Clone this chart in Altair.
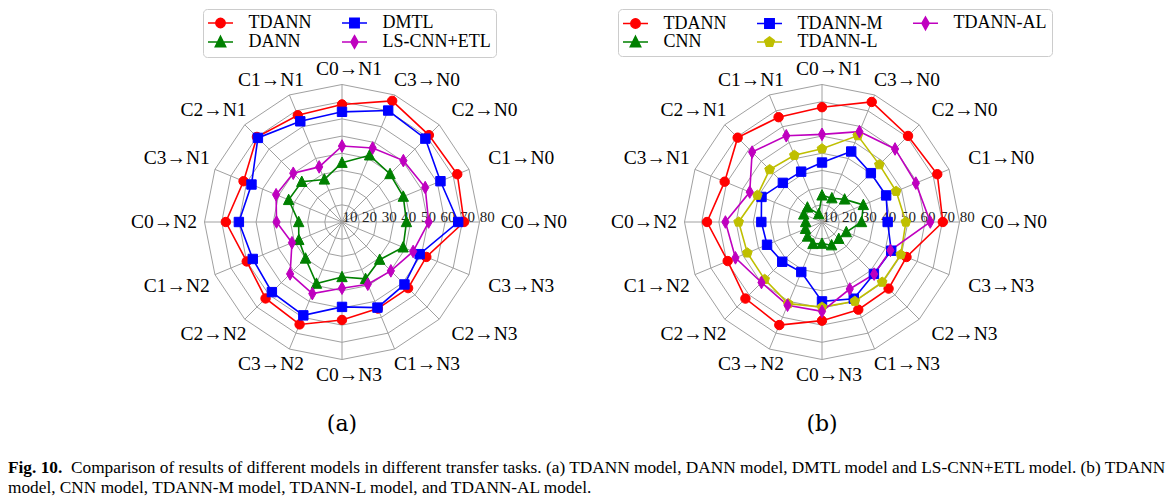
import math
import altair as alt
import pandas as pd

# ---------------- data ----------------
tasks = ["C0→N0", "C1→N0", "C2→N0", "C3→N0", "C0→N1", "C1→N1", "C2→N1", "C3→N1",
         "C0→N2", "C1→N2", "C2→N2", "C3→N2", "C0→N3", "C1→N3", "C2→N3", "C3→N3"]
ticks = [10, 20, 30, 40, 50, 60, 70, 80]

# panel (a)
a_models = ["TDANN", "DANN", "DMTL", "LS-CNN+ETL"]
a_tdann = [71.0, 72.6, 71.5, 76.3, 68.4, 67.2, 70.0, 62.0, 67.6, 60.0, 62.9, 64.5, 57.0, 54.5, 54.4, 53.1]
a_dann = [37.5, 38.6, 39.5, 42.0, 34.5, 26.8, 33.1, 33.6, 25.2, 27.2, 30.0, 38.8, 32.0, 35.8, 31.0, 38.5]
a_dmtl = [67.6, 62.0, 68.6, 70.2, 64.1, 63.4, 69.2, 57.0, 60.0, 56.2, 57.7, 58.8, 49.4, 53.9, 51.4, 48.9]
a_lscnn = [50.4, 52.4, 50.5, 46.6, 44.2, 34.7, 40.1, 41.5, 38.1, 31.5, 42.7, 45.1, 38.5, 39.2, 40.2, 44.8]
a_legend_order = ["TDANN", "DANN", "DMTL", "LS-CNN+ETL"]

# panel (b)
b_models = ["TDANN", "CNN", "TDANN-M", "TDANN-L", "TDANN-AL"]
b_tdann = [70.3, 72.6, 70.8, 75.6, 66.8, 66.0, 69.4, 61.3, 66.9, 59.4, 63.0, 64.9, 57.4, 55.2, 54.8, 53.2]
b_cnn = [23.0, 26.0, 18.6, 15.0, 15.5, 5.0, 12.0, 11.5, 9.5, 10.4, 11.9, 13.8, 12.6, 14.6, 13.8, 15.3]
b_tdann_m = [38.2, 40.4, 40.2, 44.4, 34.6, 31.7, 32.2, 38.1, 35.3, 34.6, 32.7, 31.5, 46.2, 48.3, 42.7, 43.6]
b_tdann_l = [48.8, 46.7, 47.2, 54.4, 42.6, 42.0, 43.1, 40.7, 48.5, 47.0, 47.2, 51.4, 49.5, 49.9, 49.5, 49.6]
b_tdann_al = [63.0, 59.1, 60.1, 56.9, 51.0, 54.3, 57.5, 45.5, 56.2, 54.5, 49.8, 52.4, 52.0, 42.2, 42.9, 43.1]
b_legend_order = ["TDANN", "CNN", "TDANN-M", "TDANN-L", "TDANN-AL"]

colors = {"TDANN": "#ff0000", "DANN": "#008000", "CNN": "#008000", "DMTL": "#0000ff",
          "TDANN-M": "#0000ff", "LS-CNN+ETL": "#bf00bf", "TDANN-AL": "#bf00bf", "TDANN-L": "#bfbf00"}
marker_kind = {"TDANN": "circle", "DANN": "tri", "CNN": "tri", "DMTL": "square", "TDANN-M": "square",
               "LS-CNN+ETL": "tdiamond", "TDANN-AL": "tdiamond", "TDANN-L": "pentagon"}

caption1_bold = "Fig. 10."
caption1 = ("Comparison of results of different models in different transfer tasks. (a) TDANN model, "
            "DANN model, DMTL model and LS-CNN+ETL model. (b) TDANN")
caption2 = "model, CNN model, TDANN-M model, TDANN-L model, and TDANN-AL model."

# ---------------- styling / layout ----------------
K = 137.5 / 80.0          # pixels per accuracy unit
CX = 334                  # centre x inside each panel (px)
CY = 213                  # centre y inside each panel (px)
H = 488
SERIF = "Liberation Serif"
GRID = "#a0a0a0"


def marker_path(kind, unit, with_line=False):
    def f(v):
        return f"{v / unit:.4f}"
    if kind == "circle":
        r = 4.7
        p = f"M{f(r)},0A{f(r)},{f(r)},0,1,1,{f(-r)},0A{f(r)},{f(r)},0,1,1,{f(r)},0Z"
    elif kind == "square":
        h = 4.7
        p = f"M{f(-h)},{f(-h)}L{f(h)},{f(-h)}L{f(h)},{f(h)}L{f(-h)},{f(h)}Z"
    elif kind == "tri":
        h = 5.2
        p = f"M0,{f(-1.1 * h)}L{f(h)},{f(0.9 * h)}L{f(-h)},{f(0.9 * h)}Z"
    elif kind == "tdiamond":
        w, h = 3.6, 6.3
        p = f"M0,{f(-h)}L{f(w)},0L0,{f(h)}L{f(-w)},0Z"
    else:
        r = 5.1
        pts = []
        for k in range(5):
            a = math.radians(-90 + 72 * k)
            pts.append((r * math.cos(a), r * math.sin(a)))
        p = "M" + "L".join(f"{f(x)},{f(y)}" for x, y in pts) + "Z"
    if with_line:
        p = f"M{f(-12.5)},0L{f(12.5)},0" + p
    return p


def radar(models, values, legend_order, width, legend_x, legend_cols, tag, caption=False):
    xs = alt.Scale(domain=[-CX / K, (width - CX) / K], nice=False, zero=False)
    ys = alt.Scale(domain=[-(H - CY) / K, CY / K], nice=False, zero=False)

    def X(f):
        return alt.X(f, type="quantitative", scale=xs, axis=None)

    def Y(f):
        return alt.Y(f, type="quantitative", scale=ys, axis=None)

    # grid rings
    ring_df = pd.DataFrame([{"ring": t, "i": i} for t in ticks for i in range(len(tasks))])
    rings = alt.Chart(ring_df).mark_line(interpolate="linear-closed", stroke=GRID, strokeWidth=1).transform_calculate(
        ang="datum.i * PI / 8").transform_calculate(
        x="datum.ring * cos(datum.ang)", y="datum.ring * sin(datum.ang)").encode(
        x=X("x"), y=Y("y"), detail="ring:N", order="i:Q")

    # spokes
    sp_df = pd.DataFrame({"i": list(range(len(tasks)))})
    spokes = alt.Chart(sp_df).mark_rule(stroke=GRID, strokeWidth=1).transform_calculate(
        ang="datum.i * PI / 8").transform_calculate(
        zero="0", sx=f"{ticks[-1]} * cos(datum.ang)", sy=f"{ticks[-1]} * sin(datum.ang)").encode(
        x=X("zero"), y=Y("zero"), x2="sx:Q", y2="sy:Q")

    # radial tick labels
    tk_df = pd.DataFrame({"t": ticks, "lab": [str(t) for t in ticks]})
    tlabels = alt.Chart(tk_df).mark_text(font=SERIF, fontSize=15, color="#222222", baseline="alphabetic",
                                         align="center").transform_calculate(
        lx=f"(1.96 * datum.t - 11.6) / {K}", ly="0").encode(x=X("lx"), y=Y("ly"), text="lab:N")

    # category labels (centred on a rounded ellipse around the grid)
    cat_df = pd.DataFrame({"i": list(range(len(tasks))), "task": tasks})
    cats = (alt.Chart(cat_df).mark_text(font=SERIF, fontSize=19.5, color="black", align="center",
                                        baseline="middle")
            .transform_calculate(ang="datum.i * PI / 8")
            .transform_calculate(c="cos(datum.ang)", s="sin(datum.ang)")
            .transform_calculate(
                lx=f"(7 + 185 * (datum.c < 0 ? -1 : 1) * pow(abs(datum.c), 0.9)) / {K}",
                ly=f"(153 * (datum.s < 0 ? -1 : 1) * pow(abs(datum.s), 0.9)) / {K}")
            .encode(x=X("lx"), y=Y("ly"), text="task:N"))

    # series
    rows = []
    for m, vals in zip(models, values):
        for i, v in enumerate(vals):
            rows.append({"model": m, "i": i, "value": v})
    df = pd.DataFrame(rows)
    cols = [colors[m] for m in models]
    pt_shapes = [marker_path(marker_kind[m], 5.0) for m in models]

    lines = alt.Chart(df).mark_line(interpolate="linear-closed", strokeWidth=1.6).transform_calculate(
        ang="datum.i * PI / 8").transform_calculate(
        x="datum.value * cos(datum.ang)", y="datum.value * sin(datum.ang)").encode(
        x=X("x"), y=Y("y"),
        stroke=alt.Stroke("model:N", scale=alt.Scale(domain=models, range=cols), legend=None),
        order="i:Q")

    points = alt.Chart(df).mark_point(filled=True, size=100, strokeWidth=1, opacity=1).transform_calculate(
        ang="datum.i * PI / 8").transform_calculate(
        x="datum.value * cos(datum.ang)", y="datum.value * sin(datum.ang)").encode(
        x=X("x"), y=Y("y"),
        fill=alt.Fill("model:N", scale=alt.Scale(domain=models, range=cols), legend=None),
        stroke=alt.Stroke("model:N", scale=alt.Scale(domain=models, range=cols), legend=None),
        shape=alt.Shape("model:N", scale=alt.Scale(domain=models, range=pt_shapes), legend=None))

    # legend (native Vega legend, symbols = line + marker)
    lg_cols = [colors[m] for m in legend_order]
    lg_shapes = [marker_path(marker_kind[m], 8.0, with_line=True) for m in legend_order]
    leg = alt.Legend(orient="none", legendX=legend_x, legendY=0, columns=legend_cols, title=None,
                     labelFont=SERIF, labelFontSize=18, labelColor="black", labelLimit=400,
                     symbolSize=256, symbolStrokeWidth=1.5, symbolOffset=3.5, labelOffset=19,
                     symbolOpacity=1, columnPadding=27, rowPadding=0, padding=5,
                     strokeColor="#cccccc", fillColor="white", cornerRadius=4)
    lg_df = pd.DataFrame({"series": legend_order})
    legend_layer = alt.Chart(lg_df).mark_point(filled=True, clip=True, strokeWidth=1.5, opacity=1).encode(
        x=alt.value(-999), y=alt.value(-999),
        fill=alt.Fill("series:N", scale=alt.Scale(domain=legend_order, range=lg_cols), legend=leg),
        stroke=alt.Stroke("series:N", scale=alt.Scale(domain=legend_order, range=lg_cols), legend=leg),
        shape=alt.Shape("series:N", scale=alt.Scale(domain=legend_order, range=lg_shapes), legend=leg))

    tag_layer = alt.Chart(pd.DataFrame({"t": [tag]})).mark_text(
        font="DejaVu Serif", fontSize=22, color="black", baseline="middle", align="center").encode(
        x=alt.X("c:Q", scale=xs, axis=None), y=alt.value(415), text="t:N").transform_calculate(c="0")

    layers = [rings, spokes, tlabels, cats, lines, points, legend_layer, tag_layer]

    if caption:
        cap_df = pd.DataFrame({"a": [caption1_bold], "b": [caption1], "c": [caption2]})
        cap_bold = alt.Chart(cap_df).mark_text(font=SERIF, fontSize=17.3, fontWeight="bold", color="black",
                                               align="left", baseline="alphabetic").encode(
            x=alt.value(0), y=alt.value(464), text="a:N")
        cap_l1 = alt.Chart(cap_df).mark_text(font=SERIF, fontSize=17.3, color="black",
                                             align="left", baseline="alphabetic").encode(
            x=alt.value(63), y=alt.value(464), text="b:N")
        cap_l2 = alt.Chart(cap_df).mark_text(font=SERIF, fontSize=17.3, color="black",
                                             align="left", baseline="alphabetic").encode(
            x=alt.value(0), y=alt.value(484), text="c:N")
        layers += [cap_bold, cap_l1, cap_l2]

    return alt.layer(*layers).resolve_scale(
        fill="independent", stroke="independent", shape="independent").properties(width=width, height=H)


panel_a = radar(a_models, [a_tdann, a_dann, a_dmtl, a_lscnn], a_legend_order, 480, 195, 2, "(a)", caption=True)
panel_b = radar(b_models, [b_tdann, b_cnn, b_tdann_m, b_tdann_l, b_tdann_al], b_legend_order, 680, 130, 3, "(b)")

chart = alt.hconcat(panel_a, panel_b, spacing=0, bounds="flush").resolve_scale(
    x="independent", y="independent", fill="independent", stroke="independent", shape="independent"
).properties(padding=0, background="white").configure_view(stroke=None)

chart.save("out.html", embed_options={"renderer": "svg", "actions": False})
